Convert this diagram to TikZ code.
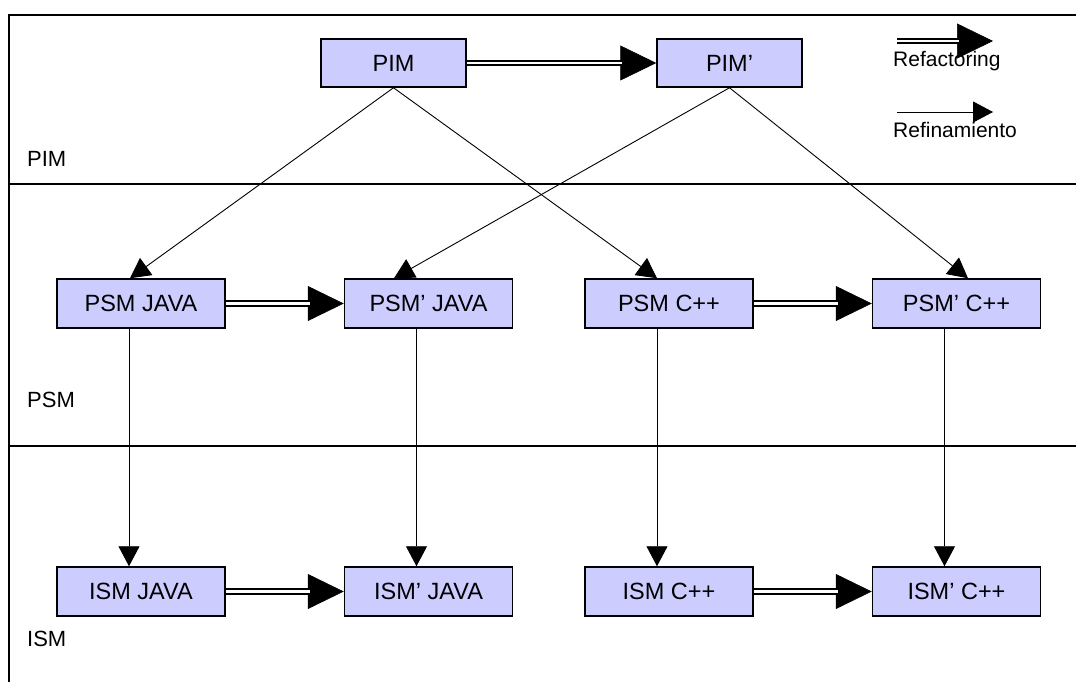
\documentclass[tikz,border=0pt]{standalone}
\usepackage{fontspec}
\setmainfont{Liberation Sans}
\usetikzlibrary{arrows.meta}
\definecolor{boxfill}{RGB}{204,204,255}
\begin{document}
\begin{tikzpicture}[x=1pt,y=-1pt,
  box/.style={draw, line width=1.5pt, fill=boxfill, minimum width=168pt,
    minimum height=49pt, inner sep=0pt, font=\fontsize{23.5}{28}\selectfont},
  smallbox/.style={box, minimum width=145pt, minimum height=48pt},
  refine/.style={line width=0.9pt, -{Triangle[length=20pt,width=21pt]}},
  refhead/.style={line width=0.6pt, -{Triangle[length=36pt,width=35pt]}},
  refbody/.style={double, line width=2pt, double distance=2.6pt, shorten >=34pt},
  level/.style={anchor=base west, inner sep=0pt, font=\fontsize{22}{26}\selectfont},
  legend/.style={anchor=base west, inner sep=0pt, font=\fontsize{21}{25}\selectfont},
  frame/.style={line width=1.5pt}]
\useasboundingbox (0,0) rectangle (1076,682);

% frame and level separators
\draw[frame] (1076,15) -- (9,15) -- (9,682);
\draw[frame] (9,184) -- (1076,184);
\draw[frame] (9,446) -- (1076,446);

% level labels
\node[level] (lpim) at (27,166) {PIM};
\node[level] (lpsm) at (27,407) {PSM};
\node[level] (lism) at (27,646) {ISM};

% models
\node[smallbox] (pim)  at (393.5,63) {PIM};
\node[smallbox] (pimp) at (729.5,63) {PIM'};

\node[box] (psmj)  at (141,303.5)   {PSM JAVA};
\node[box] (psmjp) at (428.5,303.5) {PSM' JAVA};
\node[box] (psmc)  at (669,303.5)   {PSM C++};
\node[box] (psmcp) at (956.5,303.5) {PSM' C++};

\node[box] (ismj)  at (141,591.5)   {ISM JAVA};
\node[box] (ismjp) at (428.5,591.5) {ISM' JAVA};
\node[box] (ismc)  at (669,591.5)   {ISM C++};
\node[box] (ismcp) at (956.5,591.5) {ISM' C++};

% refactoring (double arrows)
\foreach \a/\b in {pim/pimp, psmj/psmjp, psmc/psmcp, ismj/ismjp, ismc/ismcp}{
  \draw[refhead] (\a.east) -- (\b.west);
  \draw[refbody] (\a.east) -- (\b.west);
}

% refinement from PIM level to PSM level
\draw[refine] (pim.south)  -- ([xshift=-11pt]psmj.north);
\draw[refine] (pim.south)  -- ([xshift=-12pt]psmc.north);
\draw[refine] (pimp.south) -- ([xshift=-34.5pt]psmjp.north);
\draw[refine] (pimp.south) -- ([xshift=11.5pt]psmcp.north);

% refinement from PSM level to ISM level
\foreach \a/\b in {psmj/ismj, psmjp/ismjp, psmc/ismc, psmcp/ismcp}{
  \draw[refine] ([xshift=-12pt]\a.south) -- ([xshift=-12pt]\b.north);
}

% legend
\coordinate (rfa) at (897,41);
\coordinate (rfb) at (993,41);
\draw[refhead] (rfa) -- (rfb);
\draw[refbody] (rfa) -- (rfb);
\node[legend] (trf) at (893,67) {Refactoring};

\coordinate (rna) at (897,112);
\coordinate (rnb) at (993,112);
\draw[refine] (rna) -- (rnb);
\node[legend] (trn) at (893,138) {Refinamiento};
\end{tikzpicture}
\end{document}
